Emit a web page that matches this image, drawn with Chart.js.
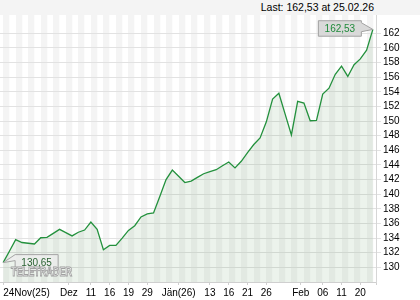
<!DOCTYPE html>
<html>
<head>
<meta charset="utf-8">
<script src="https://cdn.jsdelivr.net/npm/chart.js@4.4.1/dist/chart.umd.min.js"></script>
<style>
  body { margin: 0; background: #fff; }
  #wrap { position: relative; width: 420px; height: 300px; }
  #priceChart { position: absolute; left: 0; top: 0; display: block; }
  #head {
    position: absolute; left: 0; top: 0; width: 420px; height: 15px;
    box-sizing: border-box; padding-right: 46px;
    background: #f4f4f4; color: #000; text-align: right;
    font: 10.5px "Liberation Sans", Arial, sans-serif; line-height: 15px;
  }
</style>
</head>
<body>
<div id="wrap">
  <canvas id="priceChart" width="420" height="300"></canvas>
  <div id="head"></div>
</div>
<script>
// daily closes, 24.11.25 .. 25.02.26
const closes = [
  130.65, 132.2, 133.8, 133.4, 133.3, 133.2, 134.05, 134.1, 134.65, 135.2,
  134.75, 134.3, 134.8, 135.1, 136.2, 135.2, 132.4, 133.0, 133.0, 134.0,
  135.05, 135.7, 136.9, 137.3, 137.45, 139.7, 142.0, 143.3, 142.45, 141.6,
  141.8, 142.3, 142.8, 143.1, 143.35, 143.9, 144.4, 143.6, 144.5, 145.7,
  146.8, 147.7, 149.9, 153.0, 153.8, 150.95, 148.1, 152.7, 152.45, 150.05,
  150.1, 153.7, 154.5, 156.4, 157.5, 156.1, 157.7, 158.5, 159.7, 162.53
];
const lastDate = '25.02.26';

// x axis labels and the day index they sit on
const tickIdx = [0, 10.5, 14, 17, 20, 23, 28, 33, 36, 39, 42, 47.5, 51, 54, 57];
const tickLabels = ['24Nov(25)', 'Dez', '11', '16', '19', '29', 'Jän(26)', '13', '16', '21', '26', 'Feb', '06', '11', '20'];

const yTicks = [130, 132, 134, 136, 138, 140, 142, 144, 146, 148, 150, 152, 154, 156, 158, 160, 162];

const fmt = v => v.toFixed(2).replace('.', ',');
const FONT = '"Liberation Sans", Arial, sans-serif';
Chart.defaults.font.family = FONT;

document.getElementById('head').textContent = 'Last: ' + fmt(closes[closes.length - 1]) + ' at ' + lastDate;

// first / last value tags and the watermark
const valueTags = {
  id: 'valueTags',
  afterDatasetsDraw(chart) {
    const { ctx, scales: { x, y } } = chart;
    const n = closes.length - 1;
    ctx.save();
    ctx.font = '10px ' + FONT;
    ctx.textAlign = 'center';
    ctx.textBaseline = 'middle';
    ctx.lineWidth = 1;

    // first value
    let px = x.getPixelForValue(0), py = y.getPixelForValue(closes[0]);
    let bx = px + 12, by = py - 8, bw = 43, bh = 16;
    ctx.fillStyle = 'rgba(236,236,236,0.75)';
    ctx.strokeStyle = '#a4a4a4';
    ctx.beginPath();
    ctx.moveTo(px, py); ctx.lineTo(bx, by); ctx.lineTo(bx + bw, by);
    ctx.lineTo(bx + bw, by + bh); ctx.lineTo(bx, by + bh); ctx.lineTo(bx, by + 6);
    ctx.closePath();
    ctx.fill(); ctx.stroke();
    ctx.fillStyle = '#2b6232';
    ctx.fillText(fmt(closes[0]), bx + bw / 2, py + 0.5);

    // watermark
    ctx.font = 'bold 13px ' + FONT;
    ctx.textAlign = 'left';
    ctx.textBaseline = 'alphabetic';
    ctx.fillStyle = '#ffffff';
    ctx.strokeStyle = '#a0a0a0';
    ctx.fillText('TELETRADER', 11, 276, 61);
    ctx.strokeText('TELETRADER', 11, 276, 61);

    // last value
    px = x.getPixelForValue(n); py = y.getPixelForValue(closes[n]);
    bw = 43; bh = 15.5; bx = px - 11.5 - bw; by = py - 8.7;
    ctx.fillStyle = '#d9d9d9';
    ctx.strokeStyle = '#a2a2a2';
    ctx.beginPath();
    ctx.moveTo(bx, by); ctx.lineTo(bx + bw, by); ctx.lineTo(bx + bw, by + 2);
    ctx.lineTo(px, py); ctx.lineTo(bx + bw, by + 11);
    ctx.lineTo(bx + bw, by + bh); ctx.lineTo(bx, by + bh);
    ctx.closePath();
    ctx.fill(); ctx.stroke();
    ctx.font = '10px ' + FONT;
    ctx.textAlign = 'center';
    ctx.textBaseline = 'middle';
    ctx.fillStyle = '#1f8a3a';
    ctx.fillText(fmt(closes[n]), bx + bw / 2, by + bh / 2 + 0.5);
    ctx.restore();
  }
};

const ctx = document.getElementById('priceChart').getContext('2d');
new Chart(ctx, {
  type: 'line',
  data: {
    datasets: [{
      data: closes.map((v, i) => ({ x: i, y: v })),
      borderColor: '#23913d',
      borderWidth: 1.3,
      backgroundColor: 'rgba(40,120,40,0.09)',
      fill: 'start',
      pointRadius: 0,
      tension: 0
    }]
  },
  options: {
    responsive: false,
    animation: false,
    layout: { padding: { top: 15, left: 0, right: 0, bottom: 0 } },
    plugins: { legend: { display: false }, tooltip: { enabled: false } },
    scales: {
      // day stripes in the background
      xs: {
        type: 'linear', position: 'bottom',
        min: -0.5, max: closes.length - 0.5,
        afterBuildTicks: s => {
          const t = [];
          for (let i = 0; i < closes.length - 1; i += 2) t.push({ value: i + 0.5 });
          s.ticks = t;
        },
        afterFit: s => { s.height = 0; },
        grid: { color: '#f4f4f4', lineWidth: 6.27, drawTicks: false, z: -2 },
        border: { display: false },
        ticks: { display: false }
      },
      x: {
        type: 'linear', position: 'bottom',
        min: -0.5, max: closes.length - 0.5,
        afterBuildTicks: s => {
          s.ticks = tickIdx.map(v => ({ value: v })).concat([{ value: closes.length - 0.5 }]);
        },
        afterFit: s => { s.height = 18; },
        grid: { drawOnChartArea: false, tickLength: 3, color: '#cfcfcf' },
        border: { color: '#cfcfcf' },
        ticks: {
          autoSkip: false, maxRotation: 0, align: 'inner', padding: 2,
          color: '#000', font: { size: 10 },
          callback: (v, i) => tickLabels[i] ?? ''
        }
      },
      y: {
        position: 'right',
        min: 128, max: 164.5,
        afterBuildTicks: s => { s.ticks = yTicks.map(v => ({ value: v })); },
        afterFit: s => { s.width = 44; },
        grid: { color: '#e2e2e2', tickLength: 5 },
        border: { color: '#d6d6d6' },
        ticks: { padding: 2, color: '#000', font: { size: 10 }, callback: v => v }
      }
    }
  },
  plugins: [valueTags]
});
</script>
</body>
</html>
